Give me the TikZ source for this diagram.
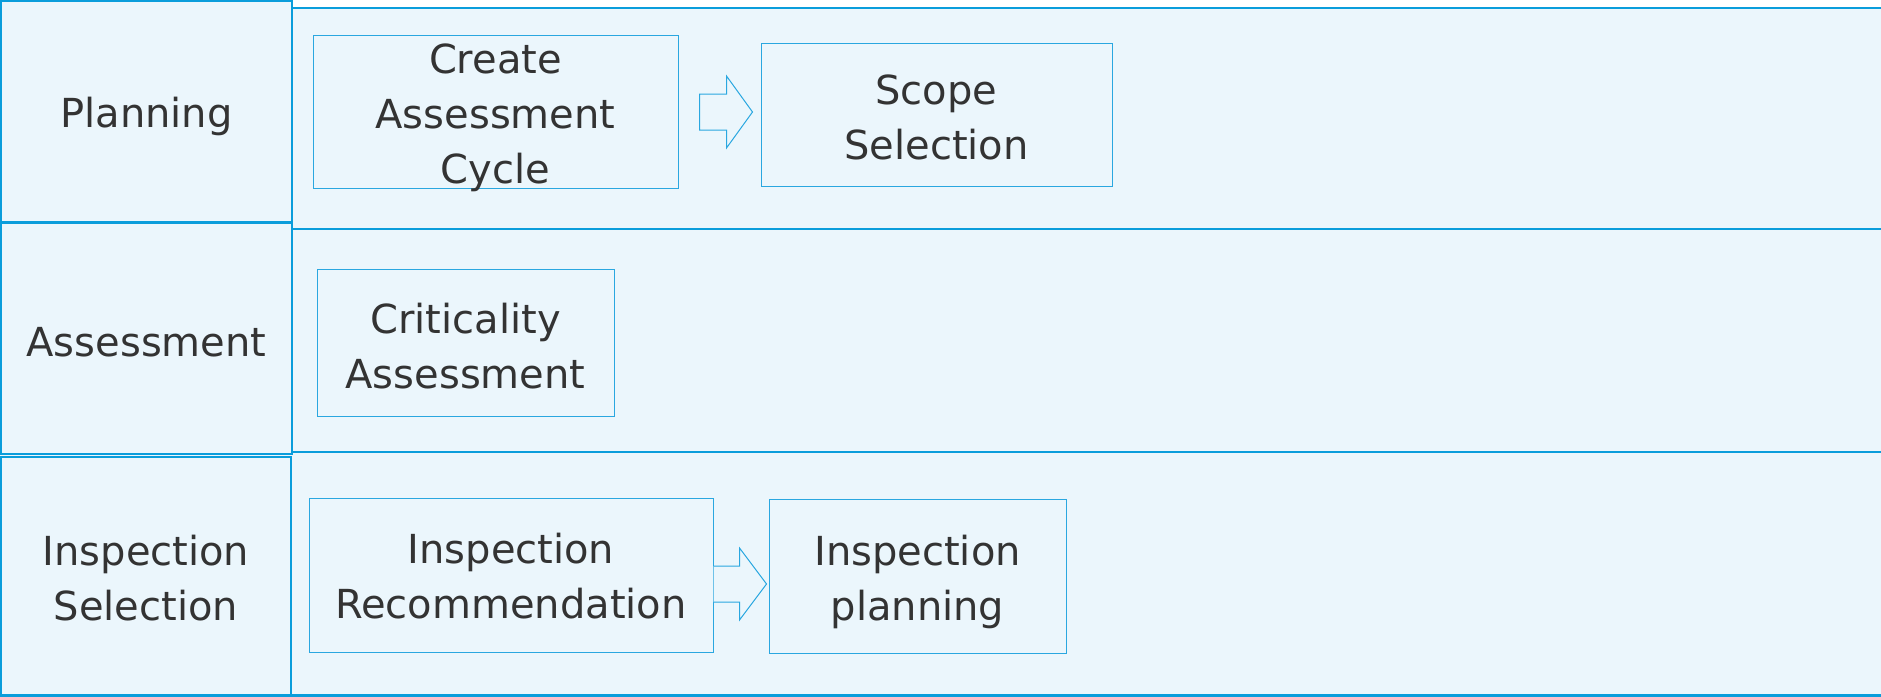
\documentclass[tikz,border=0pt]{standalone}
\usepackage{fontspec}
\setmainfont{DejaVu Sans}
\usetikzlibrary{calc}
\definecolor{lanefill}{HTML}{EBF6FC}
\definecolor{laneline}{HTML}{0A9DDB}
\definecolor{boxline}{HTML}{2AA7E0}
\definecolor{txt}{HTML}{333333}
\begin{document}
\begin{tikzpicture}[x=1pt,y=-1pt,
 lane/.style={draw=laneline, fill=lanefill, line width=2.5pt},
 lbl/.style={inner sep=0pt, text=txt, font=\fontsize{40}{55}\selectfont, align=center},
 hdr/.style={draw=laneline, fill=lanefill, line width=2pt, inner sep=0pt},
 stepbox/.style={draw=boxline, fill=lanefill, line width=1pt, inner sep=0pt},
 barrow/.style={draw=boxline, line width=1pt, line join=miter},
 barrowfill/.style={fill=lanefill}]
\useasboundingbox (0,0) rectangle (1881,696);
\clip (0,0) rectangle (1881,696);
\fill[white] (0,0) rectangle (1881,696);
% lanes
\draw[lane] (-10,8) rectangle (1900,229);
\draw[lane] (-10,229) rectangle (1900,452);
\draw[lane] (-10,452) rectangle (1900,695.5);
% headers
\node[hdr, minimum width=291pt, minimum height=221pt,
  label={[lbl, yshift=-5pt]center:Planning}] (hplan) at (146.5,111.5) {};
\node[hdr, minimum width=291pt, minimum height=231pt,
  label={[lbl, yshift=-3.6pt]center:Assessment}] (hass) at (146.5,338.5) {};
\node[hdr, minimum width=290pt, minimum height=238pt,
  label={[lbl, yshift=-2pt]center:Inspection\\Selection}] (hinsp) at (146,576) {};
% steps
\node[stepbox, minimum width=365pt, minimum height=153pt,
  label={[lbl, yshift=-6pt]center:Create\\Assessment\\Cycle}] (create) at (495.5,111.5) {};
\node[stepbox, minimum width=351pt, minimum height=143pt,
  label={[lbl, yshift=-2.5pt]center:Scope\\Selection}] (scope) at (936.5,114.5) {};
\node[stepbox, minimum width=297pt, minimum height=147pt,
  label={[lbl, yshift=-3.6pt]center:Criticality\\Assessment}] (crit) at (465.5,342.5) {};
\node[stepbox, minimum width=404pt, minimum height=154pt,
  label={[lbl, yshift=-1.5pt]center:Inspection\\Recommendation}] (insprec) at (511,575) {};
\node[stepbox, minimum width=297pt, minimum height=154pt,
  label={[lbl, yshift=-6pt]center:Inspection\\planning}] (insppl) at (917.5,576) {};
% block arrow 1
\draw[barrow, fill=lanefill] ($(create.east)+(21,-17.5)$) -- ++(27,0) -- ++(0,-18) -- ++(26,36) -- ++(-26,36) -- ++(0,-18) -- ++(-27,0) -- cycle;
% block arrow 2 (open at the box side)
\fill[barrowfill] ($(insprec.east)+(0,-9)$) -- ++(26,0) -- ++(0,-18) -- ++(27,36) -- ++(-27,36) -- ++(0,-18) -- ++(-26,0) -- cycle;
\draw[barrow] ($(insprec.east)+(0,-9)$) -- ++(26,0) -- ++(0,-18) -- ++(27,36) -- ++(-27,36) -- ++(0,-18) -- ++(-26,0);
\end{tikzpicture}
\end{document}
